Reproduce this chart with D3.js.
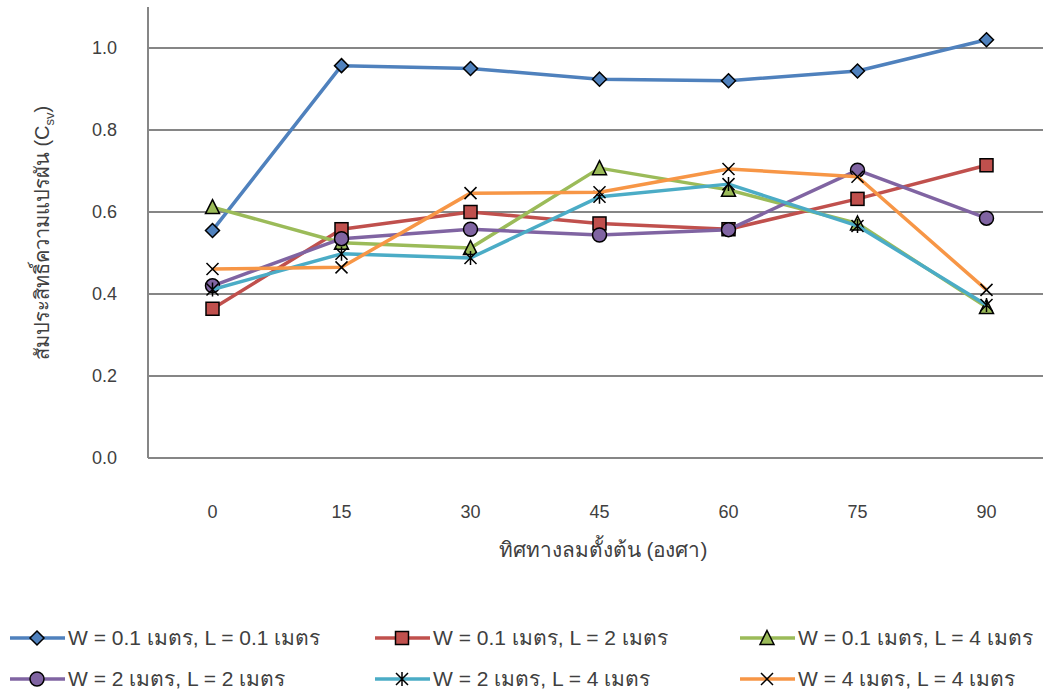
<!DOCTYPE html>
<html><head><meta charset="utf-8">
<script src="https://cdn.jsdelivr.net/npm/d3@7"></script>
<style>
body{margin:0;background:#fff;}
text{font-family:"Liberation Sans Narrow","Liberation Sans","Noto Sans",sans-serif;fill:#404040;}
</style></head>
<body><svg id="c" width="1043" height="693"></svg>
<script>
const categories = ["0","15","30","45","60","75","90"];
const yTicks = [0.0,0.2,0.4,0.6,0.8,1.0];
const seriesNames = [
  "W = 0.1 เมตร, L = 0.1 เมตร",
  "W = 0.1 เมตร, L = 2 เมตร",
  "W = 0.1 เมตร, L = 4 เมตร",
  "W = 2 เมตร, L = 2 เมตร",
  "W = 2 เมตร, L = 4 เมตร",
  "W = 4 เมตร, L = 4 เมตร"
];
const s1 = [0.555,0.957,0.950,0.924,0.920,0.944,1.020];
const s2 = [0.364,0.558,0.600,0.572,0.558,0.632,0.714];
const s3 = [0.612,0.525,0.512,0.707,0.654,0.572,0.368];
const s4 = [0.420,0.535,0.558,0.544,0.557,0.702,0.585];
const s5 = [0.411,0.498,0.488,0.637,0.668,0.566,0.373];
const s6 = [0.461,0.465,0.646,0.648,0.705,0.686,0.410];
const colors = ["#4F81BD","#C0504D","#9BBB59","#8064A2","#4BACC6","#F79646"];
const markers = ["diamond","square","triangle","circle","star","x"];
const allSeries = [s1,s2,s3,s4,s5,s6];

const svg = d3.select("#c");
const x = d3.scalePoint().domain(categories).range([148,1051]).padding(0.5);
const y = d3.scaleLinear().domain([0,1.1]).range([458,7]);

// gridlines
svg.append("g").selectAll("line").data(yTicks.filter(d=>d>0)).join("line")
  .attr("x1",148).attr("x2",1051).attr("y1",d=>y(d)).attr("y2",d=>y(d))
  .attr("stroke","#868686").attr("stroke-width",2);
// axes lines
svg.append("line").attr("x1",148).attr("x2",1051).attr("y1",y(0)).attr("y2",y(0)).attr("stroke","#868686").attr("stroke-width",2);
svg.append("line").attr("x1",148).attr("x2",148).attr("y1",y(1.1)).attr("y2",y(0)).attr("stroke","#868686").attr("stroke-width",2);

// y tick labels
svg.append("g").selectAll("text").data(yTicks).join("text")
  .attr("x",117).attr("y",d=>y(d)).attr("dy","0.35em").attr("text-anchor","end")
  .attr("font-size",18).text(d=>d.toFixed(1));
// x tick labels
svg.append("g").selectAll("text").data(categories).join("text")
  .attr("x",d=>x(d)).attr("y",512).attr("dy","0.35em").attr("text-anchor","middle")
  .attr("font-size",18).text(d=>d);

// axis titles
svg.append("text").attr("x",603).attr("y",550).attr("dy","0.35em").attr("text-anchor","middle")
  .attr("font-size",20.8).text("ทิศทางลมตั้งต้น (องศา)");
const yt = svg.append("text").attr("transform","translate(42,233) rotate(-90)")
  .attr("text-anchor","middle").attr("dy","0.35em").attr("font-size",20);
yt.append("tspan").text("สัมประสิทธิ์ความแปรผัน (C");
yt.append("tspan").attr("font-size",13).attr("dy","5").text("sv");
yt.append("tspan").attr("dy","-5").text(")");

function drawMarker(g, type, color){
  const s = 7;
  if(type==="diamond"){
    g.append("path").attr("d",`M0,${-s}L${s},0L0,${s}L${-s},0Z`).attr("fill",color).attr("stroke","#000").attr("stroke-width",1.5);
  } else if(type==="square"){
    g.append("rect").attr("x",-s+0.5).attr("y",-s+0.5).attr("width",2*s-1).attr("height",2*s-1).attr("fill",color).attr("stroke","#000").attr("stroke-width",1.5);
  } else if(type==="triangle"){
    g.append("path").attr("d",`M0,${-s-0.5}L${s},${s-0.5}L${-s},${s-0.5}Z`).attr("fill",color).attr("stroke","#000").attr("stroke-width",1.5);
  } else if(type==="circle"){
    g.append("circle").attr("r",s).attr("fill",color).attr("stroke","#000").attr("stroke-width",1.5);
  } else if(type==="star"){
    g.append("path").attr("d",`M${-s+1},${-s+1}L${s-1},${s-1}M${s-1},${-s+1}L${-s+1},${s-1}M0,${-s}L0,${s}`).attr("stroke","#000").attr("stroke-width",1.5).attr("fill","none");
  } else if(type==="x"){
    g.append("path").attr("d",`M${-s+1},${-s+1}L${s-1},${s-1}M${s-1},${-s+1}L${-s+1},${s-1}`).attr("stroke","#000").attr("stroke-width",1.5).attr("fill","none");
  }
}

const line = d3.line().x((d,i)=>x(categories[i])).y(d=>y(d));
allSeries.forEach((data,k)=>{
  const g = svg.append("g");
  g.append("path").datum(data).attr("d",line).attr("fill","none").attr("stroke",colors[k]).attr("stroke-width",3.5).attr("stroke-linejoin","round");
  data.forEach((v,i)=>{
    const mg = g.append("g").attr("transform",`translate(${x(categories[i])},${y(v)})`);
    drawMarker(mg, markers[k], colors[k]);
  });
});

// legend
const legX = [10,375,740], legY = [638,679];
seriesNames.forEach((name,k)=>{
  const lx = legX[k%3], ly = legY[Math.floor(k/3)];
  const g = svg.append("g");
  g.append("line").attr("x1",lx).attr("x2",lx+55).attr("y1",ly).attr("y2",ly).attr("stroke",colors[k]).attr("stroke-width",3.5);
  const mg = g.append("g").attr("transform",`translate(${lx+27},${ly})`);
  drawMarker(mg, markers[k], colors[k]);
  g.append("text").attr("x",lx+58).attr("y",ly).attr("dy","0.35em").attr("font-size",21).text(name);
});
</script></body></html>
